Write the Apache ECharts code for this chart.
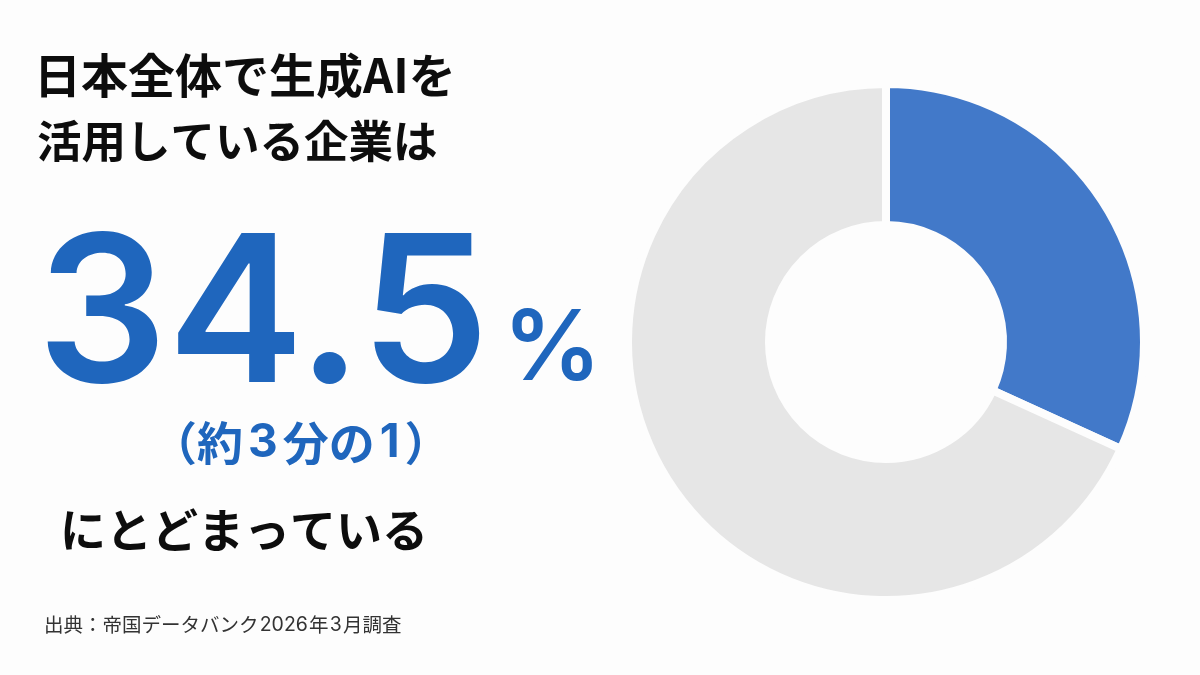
<!DOCTYPE html>
<html lang="ja">
<head>
<meta charset="utf-8">
<style>html,body{margin:0;background:#fdfdfd}#chart{width:1200px;height:675px}</style>
<script src="https://cdn.jsdelivr.net/npm/echarts@6/dist/echarts.min.js"></script>
</head>
<body>
<div id="chart"></div>
<script>
const sliceNames = ['生成AIを活用している企業', 'その他'];
// shares as drawn: the blue arc in the picture stops near 115deg, short of the 34.5% in the headline
const sliceValues = [31.8, 68.2];
const sliceColors = ['#4279c9', '#e6e6e6'];
const titleLines = ['日本全体で生成AIを', '活用している企業は'];
const bigNumber = '34.5';
const bigUnit = '%';
// rich-text runs, digits in a wider latin face like the picture
const noteText = '{k|（約}{d|3}{k|分の}{d|1}{k|）}';
const tailText = 'にとどまっている';
const sourceText = '{k|出典：帝国データバンク}{d|2026}{k|年}{d|3}{k|月調査}';

const FONT = '"Noto Sans CJK JP", sans-serif';
const LATIN = '"Inter", sans-serif';
const BLUE = '#1f66bd';
const INK = '#0d0d0d';

function label(x, y, text, size, weight, fill, extra) {
  return {
    type: 'text',
    left: x,
    top: y,
    style: Object.assign({ text, fontFamily: FONT, fontSize: size, fontWeight: weight, fill }, extra),
  };
}

function runs(size, weight, fill, pad) {
  return {
    k: { fontFamily: FONT, fontSize: size, fontWeight: weight, fill },
    d: { fontFamily: LATIN, fontSize: size, fontWeight: weight, fill, padding: [0, pad] },
  };
}

const chart = echarts.init(document.getElementById('chart'), null, { renderer: 'canvas' });
chart.setOption({
  animation: false,
  backgroundColor: '#fdfdfd',
  graphic: [
    label(34, 52, titleLines[0], 47, 700, INK),
    label(37, 119, titleLines[1], 44.5, 700, INK),
    label(37, 218, bigNumber, 205, 600, BLUE, { fontFamily: LATIN }),
    label(503, 302, bigUnit, 98, 600, BLUE, { fontFamily: LATIN }),
    label(151, 420, noteText, 46, 700, BLUE, { rich: runs(46, 700, BLUE, 5) }),
    label(60, 507, tailText, 46, 700, INK),
    label(44, 615, sourceText, 19.5, 400, '#333', { rich: runs(19.5, 400, '#333', 1.2) }),
  ],
  series: [{
    type: 'pie',
    center: [886, 342],
    radius: [117, 258],
    startAngle: 90,
    clockwise: true,
    silent: true,
    label: { show: false },
    labelLine: { show: false },
    itemStyle: { borderColor: '#fdfdfd', borderWidth: 8 },
    data: sliceValues.map((value, i) => ({
      name: sliceNames[i],
      value,
      itemStyle: { color: sliceColors[i] },
    })),
  }],
});
</script>
</body>
</html>
